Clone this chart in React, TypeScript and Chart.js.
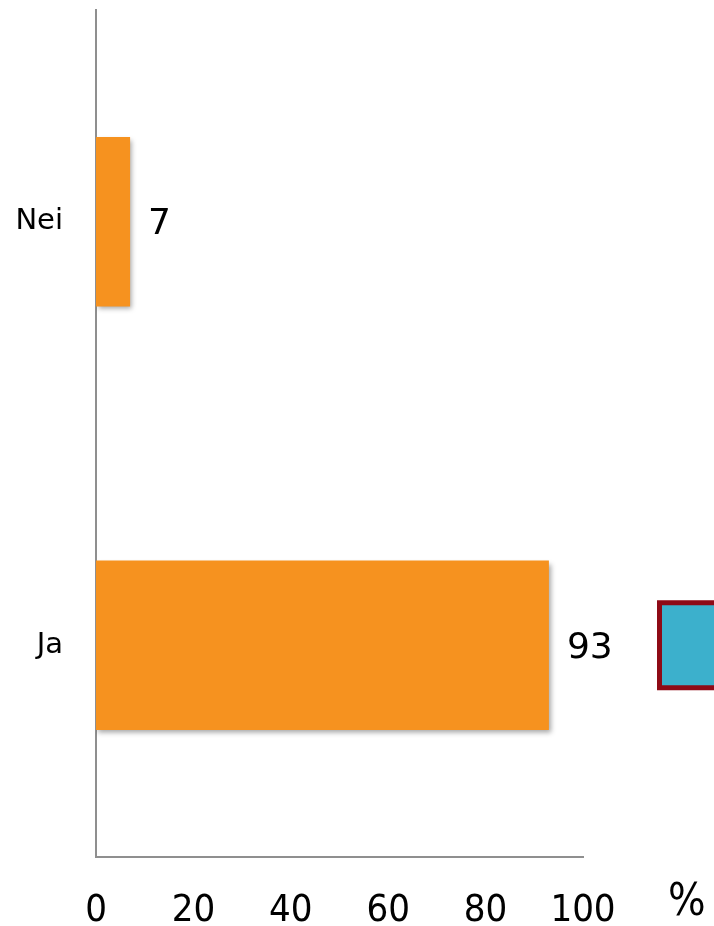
import React, { useEffect, useRef } from "react";
import { Chart, registerables } from "chart.js";

Chart.register(...registerables);

const categories = ["Nei", "Ja"];
const values = [7, 93];
const xTicks = [0, 20, 40, 60, 80, 100];
const unitLabel = "%";

const W = 714;
const H = 926;

export default function App() {
  const ref = useRef<HTMLCanvasElement | null>(null);

  useEffect(() => {
    if (!ref.current) return;
    const shadowPlugin = {
      id: "barShadow",
      beforeDatasetsDraw(chart: any) {
        const c = chart.ctx;
        c.save();
        c.shadowColor = "rgba(0,0,0,0.35)";
        c.shadowBlur = 5;
        c.shadowOffsetX = 2;
        c.shadowOffsetY = 3;
      },
      afterDatasetsDraw(chart: any) {
        chart.ctx.restore();
      },
    };
    const labelPlugin = {
      id: "valueLabels",
      afterDatasetsDraw(chart: any) {
        const c = chart.ctx;
        const meta = chart.getDatasetMeta(0);
        c.save();
        c.font = '36px "DejaVu Sans"';
        c.fillStyle = "#000";
        c.textAlign = "left";
        c.textBaseline = "middle";
        meta.data.forEach((el: any, i: number) => {
          c.fillText(String(values[i]), el.x + 18, el.y + 3);
        });
        c.restore();
      },
      afterDraw(chart: any) {
        const c = chart.ctx;
        const area = chart.chartArea;
        c.save();
        // unit label
        c.font = '44px "DejaVu Sans Condensed"';
        c.fillStyle = "#000";
        c.textAlign = "left";
        c.textBaseline = "alphabetic";
        c.fillText(unitLabel, area.right + 85, area.bottom + 58);
        // decorative legend box (clipped at right edge)
        const meta = chart.getDatasetMeta(0);
        const ja = meta.data[1];
        const bx = area.right + 74;
        const by = ja.y - 45;
        c.fillStyle = "#8E0A16";
        c.fillRect(bx, by, 80, 90);
        c.fillStyle = "#3CB0CC";
        c.fillRect(bx + 5, by + 5, 70, 80);
        c.restore();
      },
    };
    const chart = new Chart(ref.current, {
      type: "bar",
      data: {
        labels: categories,
        datasets: [
          {
            data: values,
            backgroundColor: "#F6921F",
            borderWidth: 0,
            categoryPercentage: 1,
            barPercentage: 0.4,
          },
        ],
      },
      options: {
        indexAxis: "y",
        animation: false,
        responsive: false,
        layout: { padding: { top: 10, right: 131, left: 0, bottom: 0 } },
        plugins: {
          legend: { display: false },
          tooltip: { enabled: false },
        },
        scales: {
          x: {
            min: 0,
            max: 100,
            afterBuildTicks(scale: any) {
              scale.ticks = xTicks.map((v) => ({ value: v }));
            },
            afterFit(scale: any) {
              scale.height = 69;
              scale.paddingLeft = 0;
              scale.paddingRight = 0;
            },
            grid: { display: false, drawTicks: false },
            border: { display: true, color: "#8f8f8f", width: 2 },
            ticks: {
              padding: 31,
              color: "#000",
              font: { family: '"DejaVu Sans Condensed"', size: 38 },
              maxRotation: 0,
              autoSkip: false,
            },
          },
          y: {
            afterFit(scale: any) {
              scale.width = 96;
              scale.paddingTop = 0;
              scale.paddingBottom = 0;
            },
            grid: { display: false, drawTicks: false },
            border: { display: true, color: "#8f8f8f", width: 2 },
            ticks: {
              padding: 33,
              color: "#000",
              font: { family: '"DejaVu Sans"', size: 29 },
            },
          },
        },
      },
      plugins: [shadowPlugin, labelPlugin],
    });
    return () => chart.destroy();
  }, []);

  return (
    <div style={{ position: "fixed", left: 0, top: 0, width: W, height: H, background: "#fff" }}>
      <canvas ref={ref} width={W} height={H} style={{ width: W, height: H, display: "block" }} />
    </div>
  );
}
